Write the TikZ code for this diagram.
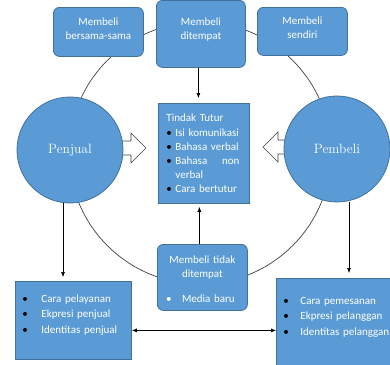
\documentclass[tikz,border=0pt]{standalone}
\usepackage{fontspec}
\setsansfont{Carlito}
\usetikzlibrary{positioning, arrows.meta, calc}

\definecolor{boxblue}{HTML}{5B9BD5}
\definecolor{boxline}{HTML}{41719C}
\definecolor{ringgray}{HTML}{404040}

% bullet item with a fixed indent
\newcommand{\butir}[2]{\makebox[#1][l]{\textcolor{black}{\textbullet}}#2}

\begin{document}
\begin{tikzpicture}[
    x=1pt, y=-1pt,
    >=LaTeX,
    % Styles
    box/.style={ % blue text box
        rectangle,
        anchor=north west,
        draw=boxline,
        fill=boxblue,
        line width=0.8pt,
        inner sep=0pt,
        text=white,
        font=\sffamily\fontsize{11}{14.5}\selectfont
    },
    rbox/.style={ % rounded blue box, centred text
        box,
        rounded corners=6pt,
        align=center
    },
    actor/.style={ % seller or buyer circle
        circle,
        draw=boxline,
        fill=boxblue,
        line width=0.8pt,
        minimum size=106pt,
        inner sep=0pt,
        text=white,
        font=\fontsize{13.5}{15}\selectfont
    },
    hollow/.style={ % white block arrow
        draw=ringgray,
        fill=white,
        line width=0.6pt
    },
    arrow/.style={
        -{Latex[length=5pt, width=4pt]},
        line width=0.6pt
    },
    dblarrow/.style={
        {Latex[length=5pt, width=4pt]}-{Latex[length=5pt, width=4pt]},
        line width=0.6pt
    }
]
    \useasboundingbox (0,0) rectangle (390,364);
    \clip (0,0) rectangle (390,364);

    % Big ring behind everything
    \draw[ringgray, line width=0.7pt] (200,153) circle[radius=131pt];

    % Block arrows into the centre box
    \draw[hollow] (110,141) -- (131,141) -- (131,133) -- (146,148)
        -- (131,163) -- (131,155) -- (110,155) -- cycle;
    \draw[hollow] (297,140) -- (278,140) -- (278,132) -- (263,147)
        -- (278,162) -- (278,154) -- (297,154) -- cycle;

    % Seller and buyer
    \node[actor] (penjual) at (70,150) {Penjual};
    \node[actor] (pembeli) at (337,149) {Pembeli};

    % Ways of buying
    \node[rbox, text width=90pt, text height=18pt, text depth=31pt] (bersama) at (53,7)
        {Membeli\\bersama-sama};
    \node[rbox, text width=89pt, text height=25pt, text depth=42pt] (ditempat) at (156,0)
        {Membeli\\ditempat};
    \node[rbox, text width=90pt, text height=17pt, text depth=31pt] (sendiri) at (257,7)
        {Membeli\\sendiri};
    \node[rbox, text width=90pt, text height=18.7pt, text depth=47.3pt] (tidak) at (157,244)
        {Membeli tidak\\ditempat\\[10.5pt]
         \hspace*{-4pt}\makebox[16pt][l]{\textbullet}Media baru};

    % Speech act box
    \node[box, align=left, inner xsep=8pt, text width=75pt, text height=17.7pt, text depth=82.3pt,
          font=\sffamily\fontsize{11}{14}\selectfont] (tutur) at (158,103)
        {Tindak Tutur\\[1.3pt]
         \butir{9pt}{Isi komunikasi}\\
         \butir{9pt}{Bahasa verbal}\\
         \butir{9pt}{\makebox[64pt][s]{Bahasa\hfill non}}\\
         \hspace*{9pt}verbal\\
         \butir{9pt}{Cara bertutur}};

    % Features of seller and buyer
    \node[box, align=left, inner xsep=7pt, text width=102pt, text height=21pt, text depth=57pt,
          font=\sffamily\fontsize{11}{15.5}\selectfont] (ciriPenjual) at (15,281)
        {\butir{19pt}{Cara pelayanan}\\
         \butir{19pt}{Ekpresi penjual}\\
         \butir{19pt}{Identitas penjual}};
    \node[box, align=left, inner xsep=7pt, text width=115pt, text height=26pt, text depth=70pt,
          font=\sffamily\fontsize{11}{15.5}\selectfont] (ciriPembeli) at (276,278)
        {\butir{17pt}{Cara pemesanan}\\
         \butir{17pt}{Ekpresi pelanggan}\\
         \butir{17pt}{Identitas pelanggan}};

    % Arrows
    \draw[arrow, shorten >=5pt] ([xshift=-2.5pt]ditempat.south)
        -- ([xshift=-2.5pt]ditempat.south |- tutur.north);
    \draw[arrow, shorten >=3pt] ([xshift=-3pt]tidak.north)
        -- ([xshift=-3pt]tidak.north |- tutur.south);
    \draw[arrow, shorten >=4pt] ([xshift=-7pt]penjual.south)
        -- ([xshift=-7pt]penjual.south |- ciriPenjual.north);
    \draw[arrow, shorten >=5pt] ([xshift=12pt]pembeli.south)
        -- ([xshift=12pt]pembeli.south |- ciriPembeli.north);
    \draw[dblarrow] ([yshift=-10pt]ciriPenjual.east)
        -- ([yshift=-10pt]ciriPenjual.east -| ciriPembeli.west);
\end{tikzpicture}
\end{document}
